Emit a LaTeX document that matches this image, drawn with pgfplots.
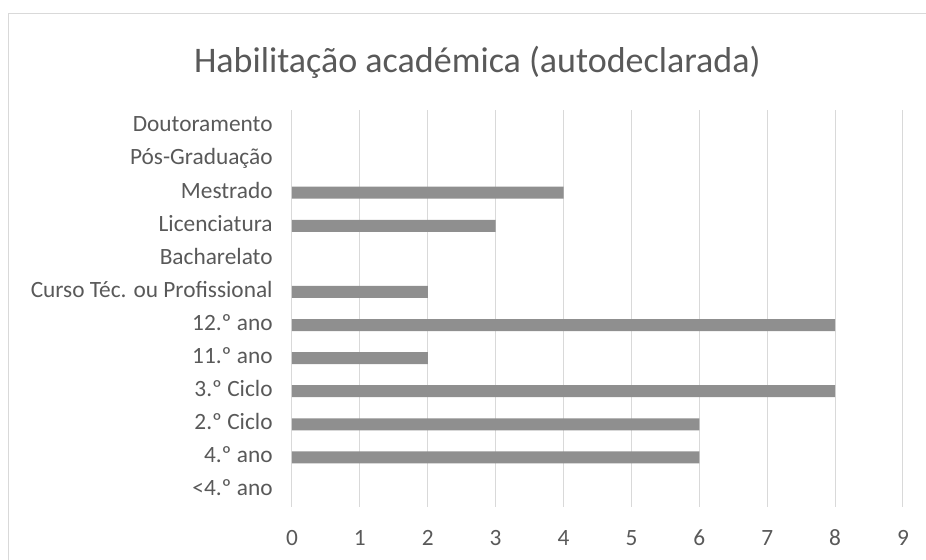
\documentclass[border=0pt]{standalone}
\usepackage{pgfplots}
\pgfplotsset{compat=1.18}
\usepackage{fontspec}
\setmainfont{Carlito}
\definecolor{txt}{HTML}{595959}
\definecolor{barc}{HTML}{8F8F8F}
\definecolor{gridc}{HTML}{D9D9D9}
\definecolor{framec}{HTML}{D9D9D9}
\begin{document}
\begin{tikzpicture}
% 1 px of the reference = 0.75pt
\useasboundingbox (0pt,0pt) rectangle (694.5pt,420pt);
\clip (0pt,0pt) rectangle (694.5pt,420pt);
\draw[framec, line width=0.75pt] (6.4pt,-15pt) rectangle (720pt,410pt);
\node[txt, font=\fontsize{27}{30}\selectfont] at (358pt,373.5pt) {Habilitação académica (autodeclarada)};
\begin{axis}[
    at={(219pt,39.75pt)}, anchor=south west,
    scale only axis,
    width=458.25pt, height=297.75pt,
    xbar, bar width=9pt,
    xmin=0, xmax=9,
    xtick={0,...,9},
    ymin=-0.5, ymax=11.5,
    ytick={0,...,11},
    yticklabels={<4.º ano, 4.º ano, 2.º Ciclo, 3.º Ciclo, 11.º ano, 12.º ano, Curso Téc. ou Profissional, Bacharelato, Licenciatura, Mestrado, Pós-Graduação, Doutoramento},
    axis line style={draw=none},
    major tick length=0pt,
    xmajorgrids=true,
    grid style={gridc, line width=0.75pt},
    ticklabel style={txt, font=\fontsize{17.5}{20}\selectfont},
    typeset ticklabels with strut,
    xticklabel style={yshift=-11pt},
    yticklabel style={xshift=-11pt},
    /pgf/number format/assume math mode=true,
]
\addplot[fill=barc, draw=none] coordinates {
    (6,1) (6,2) (8,3) (2,4) (8,5) (2,6) (3,8) (4,9)
};
\end{axis}
\end{tikzpicture}
\end{document}
